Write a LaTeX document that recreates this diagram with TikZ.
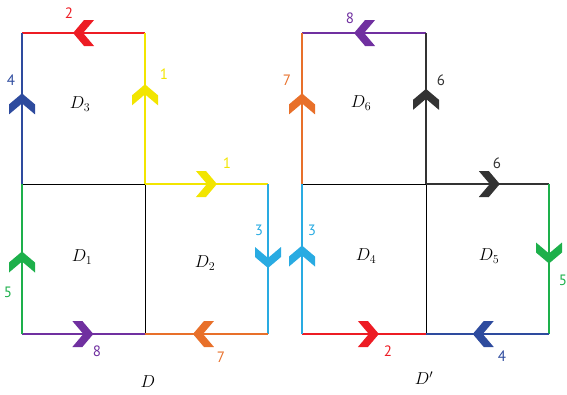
\documentclass[tikz,border=0pt]{standalone}
\usepackage{fontspec}
\setsansfont{PT Sans}
\usetikzlibrary{decorations.markings}

\definecolor{cred}{HTML}{ED1C24}
\definecolor{cblue}{HTML}{2E4B9E}
\definecolor{cyell}{HTML}{F2E500}
\definecolor{ccyan}{HTML}{29ABE2}
\definecolor{corange}{HTML}{E8702A}
\definecolor{cpurple}{HTML}{7030A0}
\definecolor{cgreen}{HTML}{1DB04B}
\definecolor{cdark}{HTML}{333333}

\begin{document}
\begin{tikzpicture}[
  x=1pt, y=-1pt,
  side/.style={line width=1.6pt},
  cut/.style={line width=0.9pt, draw=black},
  flow/.style={postaction={decorate},
    decoration={markings, mark=at position #1 with
      {\fill (0pt,0pt) -- (-11pt,13pt) -- (-21pt,13pt) -- (-10pt,0pt)
         -- (-21pt,-13pt) -- (-11pt,-13pt) -- cycle;}}},
  num/.style={font=\fontsize{15}{15}\selectfont\sffamily},
  region/.style={font=\fontsize{17}{17}\selectfont}
]
\useasboundingbox (0,0) rectangle (567,394);

% corners of D
\coordinate (a1) at (22,33);
\coordinate (a2) at (145,33);
\coordinate (a3) at (22,184);
\coordinate (a4) at (145,184);
\coordinate (a5) at (268,184);
\coordinate (a6) at (22,334);
\coordinate (a7) at (145,334);
\coordinate (a8) at (268,334);

% corners of D'
\coordinate (b1) at (302,33);
\coordinate (b2) at (426,33);
\coordinate (b3) at (302,184);
\coordinate (b4) at (426,184);
\coordinate (b5) at (549,184);
\coordinate (b6) at (302,334);
\coordinate (b7) at (426,334);
\coordinate (b8) at (549,334);

% inner cuts
\draw[cut] (a3) -- (a4) -- (a7);
\draw[cut] (b3) -- (b4) -- (b7);

% boundary of D
\draw[side, cred, flow=0.585]    (a2) -- (a1);
\draw[side, cblue, flow=0.60]    (a3) -- (a1);
\draw[side, cyell, flow=0.66]    (a4) -- (a2);
\draw[side, cyell, flow=0.585]   (a4) -- (a5);
\draw[side, ccyan, flow=0.56]    (a5) -- (a8);
\draw[side, corange, flow=0.61]  (a8) -- (a7);
\draw[side, cpurple, flow=0.58]  (a6) -- (a7);
\draw[side, cgreen, flow=0.55]   (a6) -- (a3);

% boundary of D'
\draw[side, cpurple, flow=0.58]  (b2) -- (b1);
\draw[side, corange, flow=0.60]  (b3) -- (b1);
\draw[side, cdark, flow=0.63]    (b4) -- (b2);
\draw[side, cdark, flow=0.60]    (b4) -- (b5);
\draw[side, cgreen, flow=0.53]   (b5) -- (b8);
\draw[side, cblue, flow=0.62]    (b8) -- (b7);
\draw[side, cred, flow=0.62]     (b6) -- (b7);
\draw[side, ccyan, flow=0.59]    (b6) -- (b3);

% edge labels of D
\node[num, text=cred]    (la2) at (69,13)   {2};
\node[num, text=cblue]   (la4) at (11,80)   {4};
\node[num, text=cyell]   (la1) at (164,74)  {1};
\node[num, text=cyell]   (lb1) at (227,163) {1};
\node[num, text=ccyan]   (la3) at (259,230) {3};
\node[num, text=corange] (la7) at (221,357) {7};
\node[num, text=cpurple] (la8) at (97,351)  {8};
\node[num, text=cgreen]  (la5) at (8,292)   {5};

% edge labels of D'
\node[num, text=cpurple] (lb8) at (350,18)  {8};
\node[num, text=corange] (lb7) at (287,80)  {7};
\node[num, text=cdark]   (lb6) at (441,80)  {6};
\node[num, text=cdark]   (lc6) at (497,163) {6};
\node[num, text=cgreen]  (lb5) at (563,280) {5};
\node[num, text=cblue]   (lb4) at (502,356) {4};
\node[num, text=cred]    (lb2) at (388,351) {2};
\node[num, text=ccyan]   (lb3) at (312,230) {3};

% regions
\node[region] (d3) at (80,104)  {$D_3$};
\node[region] (d1) at (82,257)  {$D_1$};
\node[region] (d2) at (205,263) {$D_2$};
\node[region] (dd) at (148,382) {$D$};
\node[region] (d6) at (361,103) {$D_6$};
\node[region] (d4) at (366,256) {$D_4$};
\node[region] (d5) at (489,256) {$D_5$};
\node[region] (de) at (424,378) {$D'$};

\end{tikzpicture}
\end{document}
